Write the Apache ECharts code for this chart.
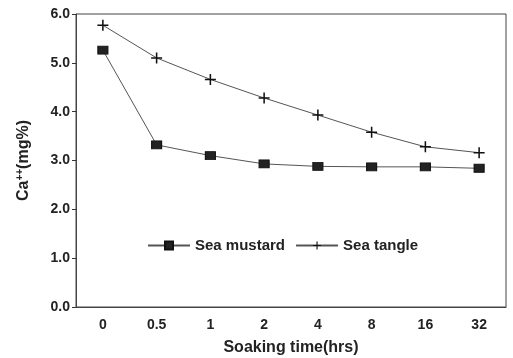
<!DOCTYPE html>
<html>
<head>
<meta charset="utf-8">
<script src="https://cdn.jsdelivr.net/npm/echarts@6/dist/echarts.min.js"></script>
<style>html,body{margin:0;padding:0;background:#fff}#c{width:513px;height:358px}</style>
</head>
<body>
<div id="c"></div>
<script>
var categories = ['0', '0.5', '1', '2', '4', '8', '16', '32'];
var seaMustard = [5.26, 3.32, 3.10, 2.93, 2.88, 2.87, 2.87, 2.84];
var seaTangle = [5.77, 5.10, 4.66, 4.28, 3.93, 3.58, 3.28, 3.16];
var yTicks = [0, 1, 2, 3, 4, 5, 6];

var chart = echarts.init(document.getElementById('c'), null, {renderer: 'canvas'});
var txt = {fontFamily: 'Liberation Sans, Arial, sans-serif', fontWeight: 'bold', color: '#222'};
var plus = 'path://M4.3,0H5.7V4.3H10V5.7H5.7V10H4.3V5.7H0V4.3H4.3Z';
chart.setOption({
  animation: false,
  backgroundColor: '#fff',
  grid: {left: 76, right: 7, top: 14, bottom: 51, show: true, borderColor: '#444', borderWidth: 1, outerBoundsMode: 'none', containLabel: false},
  legend: {
    top: 233, left: 142, itemGap: 10, itemWidth: 42, itemHeight: 10,
    textStyle: Object.assign({fontSize: 15, padding: [0, 0, 0, 0]}, txt),
    data: ['Sea mustard', 'Sea tangle']
  },
  xAxis: {
    type: 'category', data: categories, boundaryGap: true,
    name: 'Soaking time(hrs)', nameLocation: 'middle', nameGap: 33,
    nameTextStyle: Object.assign({fontSize: 16}, txt),
    axisLine: {lineStyle: {color: '#444', width: 1}},
    axisTick: {inside: true, alignWithLabel: true, length: 5, lineStyle: {color: '#333'}},
    axisLabel: Object.assign({fontSize: 14, margin: 11}, txt),
    splitLine: {show: false}
  },
  yAxis: {
    type: 'value', min: 0, max: 6, interval: 1,
    name: 'Ca{sup|++}(mg%)', nameLocation: 'middle', nameGap: 44, nameRotate: 90,
    nameTextStyle: Object.assign({fontSize: 16, rich: {sup: Object.assign({fontSize: 10, verticalAlign: 'top', padding: [0, 0, 7, 0]}, txt)}}, txt),
    axisLine: {show: true, lineStyle: {color: '#444', width: 1}},
    axisTick: {show: true, length: 4, lineStyle: {color: '#333'}},
    axisLabel: Object.assign({fontSize: 14, margin: 6, formatter: function (v) { return yTicks.indexOf(v) >= 0 ? v.toFixed(1) : ''; }}, txt),
    splitLine: {show: false}
  },
  series: [
    {
      name: 'Sea mustard', type: 'line', data: seaMustard,
      symbol: 'rect', symbolSize: [10, 8],
      itemStyle: {color: '#222', borderColor: '#111', borderWidth: 1},
      lineStyle: {color: '#555', width: 1}
    },
    {
      name: 'Sea tangle', type: 'line', data: seaTangle,
      symbol: plus, symbolSize: 11,
      itemStyle: {color: '#111'},
      lineStyle: {color: '#555', width: 1}
    }
  ]
});
</script>
</body>
</html>
